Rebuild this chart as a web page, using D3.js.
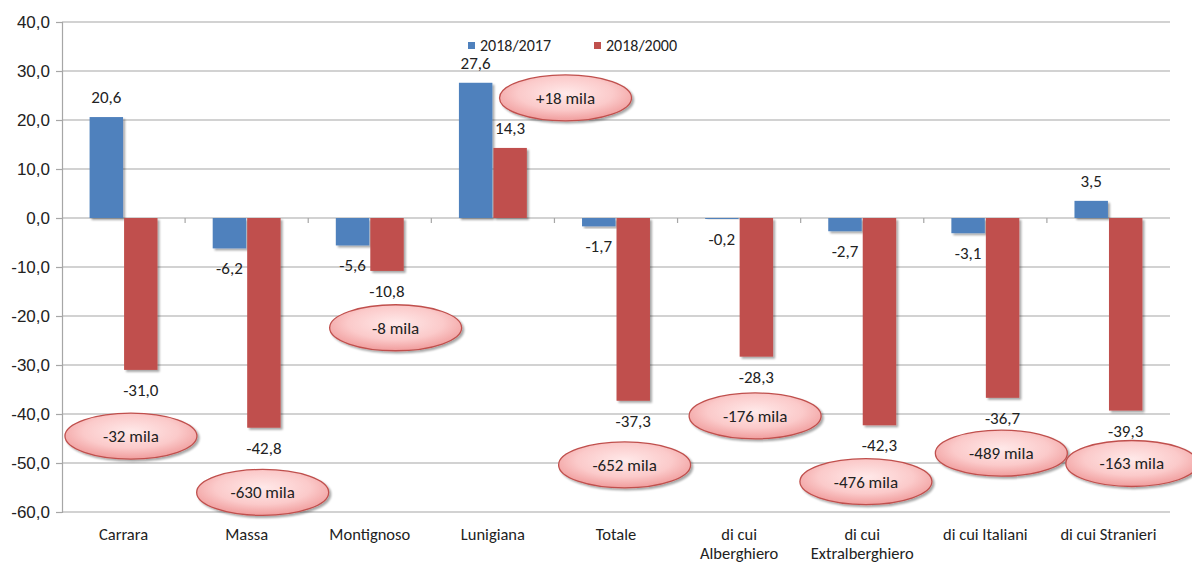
<!DOCTYPE html>
<html>
<head>
<meta charset="utf-8">
<script src="https://cdn.jsdelivr.net/npm/d3@7"></script>
<style>
  html, body { margin: 0; padding: 0; background: #fff; }
  svg { display: block; font-family: Carlito, Calibri, Lato, "Open Sans", sans-serif; }
</style>
</head>
<body>
<svg id="chart" width="1192" height="565"></svg>
<script>
// Variazione presenze turistiche (%)
const categories = ["Carrara", "Massa", "Montignoso", "Lunigiana", "Totale",
  "di cui|Alberghiero", "di cui|Extralberghiero", "di cui Italiani", "di cui Stranieri"];
const series = ["2018/2017", "2018/2000"];
const values2017 = [20.6, -6.2, -5.6, 27.6, -1.7, -0.2, -2.7, -3.1, 3.5];
const values2000 = [-31.0, -42.8, -10.8, 14.3, -37.3, -28.3, -42.3, -36.7, -39.3];
const yTicks = [40, 30, 20, 10, 0, -10, -20, -30, -40, -50, -60];

// Absolute change callouts (text, category, value level, offset within band)
const calloutText = ["-32 mila", "-630 mila", "-8 mila", "+18 mila", "-652 mila",
  "-176 mila", "-476 mila", "-489 mila", "-163 mila"];
const calloutLevel = [-44.5, -56.0, -22.4, 24.5, -50.4, -40.4, -53.8, -48.0, -50.1];
const calloutShift = [0.56, 0.63, 0.71, 1.09, 0.57, 0.63, 0.53, 0.63, 0.69];

const colors = ["#4F81BD", "#C0504D"];
const fmt = v => d3.format(".1f")(v).replace(".", ",").replace("−", "-");
const FS = 17;

const svg = d3.select("#chart");
const margin = { left: 62, right: 22, top: 22, bottom: 53 };
const W = 1192, H = 565;

const x = d3.scaleBand().domain(categories).range([margin.left, W - margin.right]).paddingInner(0).paddingOuter(0);
const y = d3.scaleLinear().domain([-60, 40]).range([H - margin.bottom, margin.top]);
const xs = d3.scaleBand().domain(series).range([0, x.bandwidth()]).paddingInner(0.03).paddingOuter(0.8);

const defs = svg.append("defs");
const shadow = defs.append("filter").attr("id", "shadow").attr("x", "-20%").attr("y", "-20%").attr("width", "150%").attr("height", "150%");
shadow.append("feGaussianBlur").attr("in", "SourceAlpha").attr("stdDeviation", 1.2);
shadow.append("feOffset").attr("dx", 1.5).attr("dy", 1.5).attr("result", "off");
shadow.append("feComponentTransfer").append("feFuncA").attr("type", "linear").attr("slope", 0.35);
const merge = shadow.append("feMerge");
merge.append("feMergeNode");
merge.append("feMergeNode").attr("in", "SourceGraphic");

const grad = defs.append("radialGradient").attr("id", "pink").attr("cx", "50%").attr("cy", "40%").attr("r", "60%");
grad.append("stop").attr("offset", "0%").attr("stop-color", "#FFE9E9");
grad.append("stop").attr("offset", "60%").attr("stop-color", "#FBCACA");
grad.append("stop").attr("offset", "100%").attr("stop-color", "#F09C9C");

// Gridlines
svg.append("g").selectAll("line").data(yTicks).join("line")
  .attr("x1", margin.left).attr("x2", W - margin.right)
  .attr("y1", d => y(d)).attr("y2", d => y(d))
  .attr("stroke", "#A6A6A6").attr("stroke-width", 1.2);

// Y axis
const yAxis = svg.append("g").attr("transform", `translate(${margin.left},0)`)
  .call(d3.axisLeft(y).tickValues(yTicks).tickSize(6).tickPadding(6).tickFormat(fmt));
yAxis.select(".domain").attr("stroke", "#A6A6A6").attr("stroke-width", 1.2);
yAxis.selectAll(".tick line").attr("stroke", "#A6A6A6").attr("stroke-width", 1.2);
yAxis.selectAll("text").attr("font-size", FS).attr("fill", "#222").style("font-family", "inherit");

// Category boundary ticks on the zero line
svg.append("g").selectAll("line").data(categories.slice(1)).join("line")
  .attr("x1", d => x(d)).attr("x2", d => x(d))
  .attr("y1", y(0)).attr("y2", y(0) + 5)
  .attr("stroke", "#A6A6A6").attr("stroke-width", 1.2);

// Bars
const rows = categories.map((c, i) => ({ c, vals: [values2017[i], values2000[i]] }));
const groups = svg.append("g").selectAll("g").data(rows).join("g")
  .attr("transform", d => `translate(${x(d.c)},0)`);

groups.selectAll("rect").data(d => d.vals.map((v, k) => ({ v, k }))).join("rect")
  .attr("x", d => xs(series[d.k]))
  .attr("width", xs.bandwidth())
  .attr("y", d => y(Math.max(0, d.v)))
  .attr("height", d => Math.abs(y(d.v) - y(0)))
  .attr("fill", d => colors[d.k])
  .attr("filter", "url(#shadow)");

// Value labels
groups.selectAll("text.val").data(d => d.vals.map((v, k) => ({ v, k }))).join("text")
  .attr("class", "val")
  .attr("x", d => xs(series[d.k]) + xs.bandwidth() / 2)
  .attr("y", d => d.v >= 0 ? y(d.v) - 14 : y(d.v) + 26)
  .attr("text-anchor", "middle")
  .attr("font-size", FS).attr("fill", "#222")
  .text(d => fmt(d.v));

// Category labels (one text element per line)
const catLines = categories.flatMap(c => c.split("|").map((t, i) => ({ c, t, i })));
svg.append("g").selectAll("text").data(catLines).join("text")
  .attr("x", d => x(d.c) + x.bandwidth() / 2)
  .attr("y", d => 540 + d.i * 19)
  .attr("text-anchor", "middle")
  .attr("font-size", 16.5).attr("fill", "#222")
  .text(d => d.t);

// Legend
const legend = svg.append("g").attr("transform", "translate(468,46)");
const legendStep = [0, 126];
series.forEach((s, k) => {
  const g = legend.append("g").attr("transform", `translate(${legendStep[k]},0)`);
  g.append("rect").attr("x", 0).attr("y", -4).attr("width", 7).attr("height", 7).attr("fill", colors[k]);
  g.append("text").attr("x", 12).attr("y", 5).attr("font-size", 16).attr("fill", "#222").text(s);
});

// Callouts
const callouts = categories.map((c, i) => ({ c, t: calloutText[i], v: calloutLevel[i], s: calloutShift[i] }));
const cg = svg.append("g").selectAll("g").data(callouts).join("g")
  .attr("transform", d => `translate(${x(d.c) + d.s * x.bandwidth()},${y(d.v)})`);
cg.append("ellipse").attr("rx", 66).attr("ry", 23)
  .attr("fill", "url(#pink)").attr("stroke", "#C0504D").attr("stroke-width", 1.3)
  .attr("filter", "url(#shadow)");
cg.append("text").attr("text-anchor", "middle").attr("dy", 6)
  .attr("font-size", FS).attr("fill", "#222").text(d => d.t);
</script>
</body>
</html>
